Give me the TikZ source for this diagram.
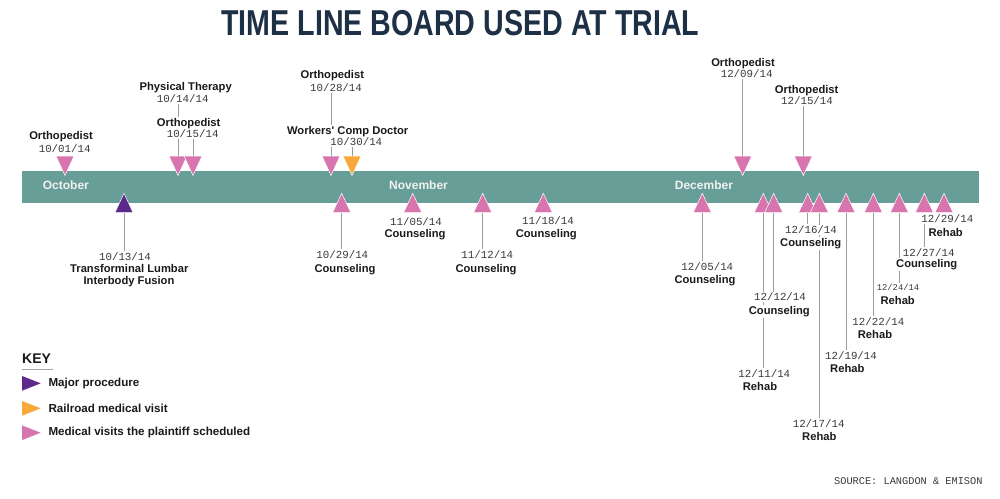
\documentclass[tikz,border=0pt]{standalone}
\usepackage{fontspec}
\usepackage{graphicx}
\usetikzlibrary{backgrounds}
\newfontfamily\labf{Liberation Sans}
\newfontfamily\datef{Liberation Mono}
\definecolor{bandc}{HTML}{679E98}
\definecolor{pinkc}{HTML}{D874AE}
\definecolor{purpc}{HTML}{5C2A8A}
\definecolor{orgc}{HTML}{F9A93B}
\definecolor{navyc}{HTML}{1E3045}
\definecolor{inkc}{HTML}{1A1A1A}
\definecolor{dtc}{HTML}{3A3A3A}
\definecolor{linc}{HTML}{9C9C9C}
\newcommand\dtri[3]{\fill[#3,draw=white,line width=0.5pt] ({#1-9},156) -- ({#1+9},156) -- (#1,175.5) -- cycle; \coordinate (#2) at (#1,156);}
\newcommand\utri[3]{\fill[#3,draw=white,line width=0.5pt] ({#1-9},212.5) -- ({#1+9},212.5) -- (#1,193.3) -- cycle; \coordinate (#2) at (#1,212.5);}
\tikzset{
  nm/.style={font=\labf\bfseries\fontsize{11.2}{13}\selectfont, text=inkc, fill=white, inner sep=1.2pt, anchor=base},
  dt/.style={font=\datef\fontsize{10.8}{13}\selectfont, text=dtc, fill=white, inner sep=1.2pt, anchor=base},
  dts/.style={dt, font=\datef\fontsize{8.8}{11}\selectfont},
  conn/.style={draw=linc, line width=0.8pt},
  month/.style={font=\labf\bfseries\fontsize{12}{14}\selectfont, text=white!95!black, anchor=base west, inner sep=0pt},
  keyl/.style={font=\labf\bfseries\fontsize{11.6}{13}\selectfont, text=inkc, anchor=west, inner sep=0pt},
}
\begin{document}
\begin{tikzpicture}[x=1pt,y=-1pt]
\useasboundingbox (0,0) rectangle (1000,498);
% title
\node[anchor=base, text=navyc, inner sep=0pt] (title) at (460.3,35)
  {\scalebox{0.795}[1]{\labf\bfseries\fontsize{36}{40}\selectfont TIME LINE BOARD USED AT TRIAL}};
% band
\fill[bandc] (22,170.7) rectangle (979,202.5);
\node[month] (oct) at (42.7,189.6) {October};
\node[month] (nov) at (389,189.6) {November};
\node[month] (dec) at (674.7,189.6) {December};
% top labels
\node[nm] (n1) at (61,139) {Orthopedist};
\node[dt] (d1) at (64.7,152.8) {10/01/14};
\node[nm] (n2) at (185.7,90.6) {Physical Therapy};
\node[dt] (d2) at (182.7,102.8) {10/14/14};
\node[nm] (n3) at (188.7,126.3) {Orthopedist};
\node[dt] (d3) at (192.7,137.8) {10/15/14};
\node[nm] (n4) at (332.3,78.3) {Orthopedist};
\node[dt] (d4) at (336,91.5) {10/28/14};
\node[nm] (n5) at (347.7,134.6) {Workers' Comp Doctor};
\node[dt] (d5) at (356.3,145.8) {10/30/14};
\node[nm] (n6) at (743,66.6) {Orthopedist};
\node[dt] (d6) at (746.7,77.8) {12/09/14};
\node[nm] (n7) at (806.7,93.6) {Orthopedist};
\node[dt] (d7) at (807,104.8) {12/15/14};
% bottom labels
\node[dt] (d8) at (125,260.1) {10/13/14};
\node[nm] (n8) at (129.3,272.7) {Transforminal Lumbar};
\node[nm] (n8b) at (129,284.1) {Interbody Fusion};
\node[dt] (d9) at (342.3,258.7) {10/29/14};
\node[nm] (n9) at (345,272.1) {Counseling};
\node[dt] (d10) at (416,225.1) {11/05/14};
\node[nm] (n10) at (415,237.7) {Counseling};
\node[dt] (d11) at (487.3,258.4) {11/12/14};
\node[nm] (n11) at (486,272.1) {Counseling};
\node[dt] (d12) at (548,224.4) {11/18/14};
\node[nm] (n12) at (546.3,237.7) {Counseling};
\node[dt] (d13) at (707.3,270.7) {12/05/14};
\node[nm] (n13) at (705,283.4) {Counseling};
\node[dt] (d14) at (764.3,377.1) {12/11/14};
\node[nm] (n14) at (760,390.1) {Rehab};
\node[dt] (d15) at (780,300.9) {12/12/14};
\node[nm] (n15) at (779.3,314.1) {Counseling};
\node[dt] (d16) at (811,233.7) {12/16/14};
\node[nm] (n16) at (810.7,246.7) {Counseling};
\node[dt] (d17) at (818.7,427.7) {12/17/14};
\node[nm] (n17) at (819.3,440.1) {Rehab};
\node[dt] (d18) at (851,359.1) {12/19/14};
\node[nm] (n18) at (847.3,372.4) {Rehab};
\node[dt] (d19) at (878.3,325.1) {12/22/14};
\node[nm] (n19) at (875,338.4) {Rehab};
\node[dts] (d20) at (898,290.6) {12/24/14};
\node[nm] (n20) at (897.7,304.1) {Rehab};
\node[dt] (d21) at (928.7,256.1) {12/27/14};
\node[nm] (n21) at (926.7,267.4) {Counseling};
\node[dt] (d22) at (947.3,222.4) {12/29/14};
\node[nm] (n22) at (945.7,236.1) {Rehab};
% triangles above
\dtri{65}{t1}{pinkc}
\dtri{178}{t2}{pinkc}
\dtri{193}{t3}{pinkc}
\dtri{331}{t4}{pinkc}
\dtri{352}{t5}{orgc}
\dtri{742.7}{t6}{pinkc}
\dtri{803.3}{t7}{pinkc}
% triangles below
\utri{124}{t8}{purpc}
\utri{341.7}{t9}{pinkc}
\utri{412.7}{t10}{pinkc}
\utri{482.7}{t11}{pinkc}
\utri{543.3}{t12}{pinkc}
\utri{702.3}{t13}{pinkc}
\utri{763.3}{t14}{pinkc}
\utri{773.7}{t15}{pinkc}
\utri{807.7}{t16}{pinkc}
\utri{819.3}{t17}{pinkc}
\utri{846}{t18}{pinkc}
\utri{873.3}{t19}{pinkc}
\utri{899.3}{t20}{pinkc}
\utri{924.3}{t21}{pinkc}
\utri{944}{t22}{pinkc}
% connectors (behind the white-filled labels)
\begin{pgfonlayer}{background}
\fill[white] (0,0) rectangle (1000,498);
\draw[conn] (t2) -- (t2 |- d2.south);
\draw[conn] (t3) -- (t3 |- d3.south);
\draw[conn] (t4) -- (t4 |- d4.south);
\draw[conn] (t5) -- (t5 |- d5.south);
\draw[conn] (t6) -- (t6 |- d6.south);
\draw[conn] (t7) -- (t7 |- d7.south);
\draw[conn] (t8) -- (t8 |- d8.north);
\draw[conn] (t9) -- (t9 |- d9.north);
\draw[conn] (t11) -- (t11 |- d11.north);
\draw[conn] (t13) -- (t13 |- d13.north);
\draw[conn] (t14) -- (t14 |- d14.north);
\draw[conn] (t15) -- (t15 |- d15.north);
\draw[conn] (t16) -- (t16 |- d16.north);
\draw[conn] (t17) -- (t17 |- d17.north);
\draw[conn] (t18) -- (t18 |- d18.north);
\draw[conn] (t19) -- (t19 |- d19.north);
\draw[conn] (t20) -- (t20 |- d20.north);
\draw[conn] (t21) -- (t21 |- d21.north);
\end{pgfonlayer}
% key
\node[anchor=base west, inner sep=0pt, text=inkc, font=\labf\bfseries\fontsize{14}{16}\selectfont] (key) at (22,363.3) {KEY};
\draw[draw=black!35, line width=1.3pt] (key.base west) ++(0,6) -- ++(30.7,0);
\fill[purpc] (22,376) -- (22,390.7) -- (40.7,383.3) -- cycle;
\fill[orgc] (22,401) -- (22,415.7) -- (40.7,408.3) -- cycle;
\fill[pinkc] (22,425.4) -- (22,440.1) -- (40.7,432.7) -- cycle;
\node[keyl] (k1) at (48.3,383.3) {Major procedure};
\node[keyl] (k2) at (48.3,408.3) {Railroad medical visit};
\node[keyl] (k3) at (48.3,432.7) {Medical visits the plaintiff scheduled};
% source
\node[anchor=base east, inner sep=0pt, text=dtc, font=\datef\fontsize{10.3}{12}\selectfont] (src) at (982.7,484.2) {SOURCE: LANGDON \& EMISON};
\end{tikzpicture}
\end{document}
